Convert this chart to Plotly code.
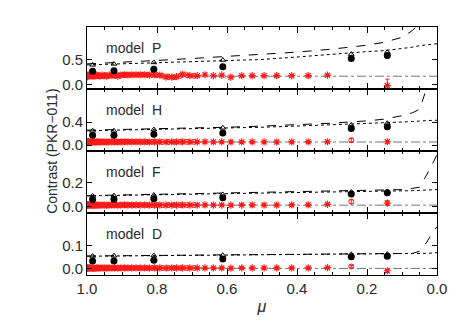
import plotly.graph_objects as go
from plotly.subplots import make_subplots

# ---------------- data ----------------
models = ["P", "H", "F", "D"]

# observed mu positions (black symbols)
mu_obs = [0.984, 0.923, 0.809, 0.612, 0.245, 0.142]
circ = {
    "P": [0.27, 0.28, 0.31, 0.36, 0.53, 0.59],
    "H": [0.17, 0.17, 0.19, 0.21, 0.29, 0.32],
    "F": [0.058, 0.060, 0.064, 0.072, 0.104, 0.114],
    "D": [0.034, 0.034, 0.037, 0.042, 0.052, 0.054],
}
tri = {
    "P": [0.40, 0.42, 0.45, 0.50, 0.62, 0.66],
    "H": [0.25, 0.25, 0.27, 0.30, 0.35, 0.38],
    "F": [0.088, 0.090, 0.095, 0.100, 0.120, 0.125],
    "D": [0.055, 0.056, 0.057, 0.058, 0.062, 0.063],
}

# model curves
mu_model = [1.0, 0.9, 0.8, 0.7, 0.6, 0.5, 0.4, 0.3, 0.2, 0.15, 0.1, 0.07, 0.05, 0.03, 0.02, 0.01, 0.0]
dashed = {
    "P": [0.42, 0.45, 0.49, 0.53, 0.57, 0.61, 0.66, 0.72, 0.80, 0.86, 0.96, 1.10, 1.22, 1.35, 1.42, 1.50, 1.60],
    "H": [0.26, 0.27, 0.28, 0.295, 0.31, 0.33, 0.35, 0.38, 0.42, 0.45, 0.51, 0.56, 0.62, 0.90, 1.10, 1.30, 1.50],
    "F": [0.09, 0.095, 0.10, 0.105, 0.11, 0.115, 0.12, 0.125, 0.13, 0.135, 0.14, 0.15, 0.16, 0.26, 0.31, 0.37, 0.43],
    "D": [0.055, 0.056, 0.057, 0.058, 0.059, 0.060, 0.061, 0.062, 0.063, 0.064, 0.065, 0.066, 0.075, 0.112, 0.137, 0.16, 0.18],
}
dotted = {
    "P": [0.40, 0.42, 0.44, 0.46, 0.48, 0.51, 0.56, 0.62, 0.67, 0.69, 0.73, 0.76, 0.79, 0.81, 0.82, 0.825, 0.83],
    "H": [0.25, 0.26, 0.27, 0.28, 0.29, 0.31, 0.33, 0.35, 0.37, 0.38, 0.40, 0.41, 0.42, 0.425, 0.43, 0.43, 0.43],
    "F": [0.088, 0.092, 0.096, 0.10, 0.104, 0.108, 0.112, 0.116, 0.12, 0.124, 0.128, 0.131, 0.134, 0.137, 0.138, 0.139, 0.14],
    "D": [0.054, 0.055, 0.056, 0.057, 0.058, 0.059, 0.060, 0.061, 0.062, 0.0625, 0.063, 0.064, 0.065, 0.066, 0.067, 0.068, 0.069],
}
# horizontal reference level (grey dash-dot)
ref_mu = [1.0, 0.0]
ref_level = {"P": 0.17, "H": 0.055, "F": 0.011, "D": 0.002}

# red asterisks (measurements)
mu_ast = [1.000, 1.000, 0.999, 0.998, 0.996, 0.994, 0.992, 0.989, 0.985, 0.982,
          0.978, 0.973, 0.968, 0.963, 0.957, 0.951, 0.944, 0.937, 0.929, 0.921,
          0.912, 0.903, 0.893, 0.883, 0.872, 0.860, 0.848, 0.835, 0.822, 0.807,
          0.792, 0.774, 0.758, 0.744, 0.727, 0.706, 0.685, 0.663, 0.639, 0.615,
          0.589, 0.558, 0.528, 0.494, 0.458, 0.415, 0.368, 0.313, 0.142]
ast = {
    "P": [0.17, 0.19, 0.16, 0.18, 0.19, 0.17, 0.18, 0.19, 0.17, 0.18,
          0.17, 0.19, 0.18, 0.17, 0.19, 0.18, 0.17, 0.19, 0.18, 0.19,
          0.17, 0.19, 0.20, 0.19, 0.20, 0.20, 0.20, 0.20, 0.19, 0.20,
          0.19, 0.15, 0.15, 0.16, 0.21, 0.18, 0.18, 0.20, 0.18, 0.19,
          0.15, 0.18, 0.18, 0.18, 0.18, 0.18, 0.18, 0.19, -0.02],
    "H": [0.055, 0.058, 0.052, 0.056, 0.060, 0.054, 0.057, 0.053, 0.058, 0.055,
          0.052, 0.057, 0.056, 0.054, 0.058, 0.055, 0.053, 0.057, 0.056, 0.059,
          0.054, 0.057, 0.060, 0.058, 0.057, 0.059, 0.056, 0.058, 0.055, 0.057,
          0.056, 0.055, 0.056, 0.057, 0.058, 0.056, 0.057, 0.058, 0.056, 0.057,
          0.055, 0.056, 0.057, 0.056, 0.055, 0.056, 0.057, 0.060, 0.060],
    "F": [0.010, 0.012, 0.009, 0.011, 0.013, 0.010, 0.011, 0.012, 0.010, 0.011,
          0.009, 0.012, 0.011, 0.010, 0.012, 0.011, 0.010, 0.012, 0.011, 0.013,
          0.010, 0.012, 0.013, 0.012, 0.012, 0.013, 0.012, 0.013, 0.011, 0.012,
          0.012, 0.011, 0.012, 0.012, 0.013, 0.012, 0.012, 0.013, 0.012, 0.012,
          0.011, 0.012, 0.013, 0.012, 0.012, 0.013, 0.014, 0.018, 0.028],
    "D": [0.003, 0.004, 0.002, 0.003, 0.004, 0.003, 0.003, 0.004, 0.003, 0.003,
          0.002, 0.004, 0.003, 0.003, 0.004, 0.003, 0.003, 0.004, 0.003, 0.004,
          0.003, 0.004, 0.004, 0.004, 0.004, 0.004, 0.004, 0.004, 0.003, 0.004,
          0.004, 0.003, 0.004, 0.004, 0.004, 0.004, 0.004, 0.004, 0.004, 0.004,
          0.003, 0.004, 0.004, 0.004, 0.004, 0.004, 0.004, 0.005, -0.008],
}
ast_err = {
    "P": [0.015] * 48 + [0.13],
    "H": [0.008] * 48 + [0.02],
    "F": [0.005] * 48 + [0.02],
    "D": [0.003] * 48 + [0.006],
}

# red open circles (second measurement set)
mu_rc = [1.000, 0.999, 0.998, 0.996, 0.995, 0.993, 0.990, 0.987, 0.984, 0.980,
         0.975, 0.971, 0.966, 0.960, 0.954, 0.947, 0.940, 0.933, 0.925, 0.917,
         0.908, 0.898, 0.888, 0.877, 0.866, 0.854, 0.841, 0.828, 0.814, 0.800,
         0.785, 0.768, 0.751, 0.733, 0.714, 0.694, 0.245]
rc = {
    "P": [0.18, 0.17, 0.19, 0.18, 0.17, 0.19, 0.18, 0.17, 0.18, 0.19,
          0.17, 0.18, 0.19, 0.18, 0.17, 0.19, 0.18, 0.19, 0.20, 0.18,
          0.19, 0.20, 0.20, 0.20, 0.20, 0.20, 0.20, 0.20, 0.20, 0.19,
          0.18, 0.16, 0.15, 0.18, 0.19, 0.18, None],
    "H": [0.058, 0.056, 0.059, 0.057, 0.056, 0.058, 0.057, 0.056, 0.058, 0.059,
          0.056, 0.057, 0.058, 0.057, 0.056, 0.058, 0.057, 0.058, 0.059, 0.057,
          0.058, 0.059, 0.058, 0.059, 0.058, 0.058, 0.059, 0.058, 0.058, 0.058,
          0.057, 0.058, 0.058, 0.058, 0.058, 0.058, 0.085],
    "F": [0.012, 0.011, 0.013, 0.012, 0.011, 0.012, 0.012, 0.011, 0.012, 0.013,
          0.011, 0.012, 0.012, 0.012, 0.011, 0.012, 0.012, 0.012, 0.013, 0.012,
          0.012, 0.013, 0.012, 0.013, 0.012, 0.012, 0.013, 0.012, 0.012, 0.012,
          0.012, 0.012, 0.012, 0.012, 0.012, 0.012, 0.040],
    "D": [0.004, 0.003, 0.004, 0.004, 0.003, 0.004, 0.004, 0.003, 0.004, 0.004,
          0.003, 0.004, 0.004, 0.004, 0.003, 0.004, 0.004, 0.004, 0.004, 0.004,
          0.004, 0.004, 0.004, 0.004, 0.004, 0.004, 0.004, 0.004, 0.004, 0.004,
          0.004, 0.004, 0.004, 0.004, 0.004, 0.004, 0.010],
}
rc_err = {
    "P": [0.015] * 36 + [0.0],
    "H": [0.008] * 36 + [0.03],
    "F": [0.005] * 36 + [0.015],
    "D": [0.003] * 36 + [0.005],
}

y_ranges = {"P": [-0.09, 1.17], "H": [-0.1, 0.97], "F": [-0.054, 0.46], "D": [-0.026, 0.238]}
y_ticks = {"P": [0.0, 0.5], "H": [0.0, 0.4], "F": [0.0, 0.2], "D": [0.0, 0.1]}
x_ticks = [1.0, 0.8, 0.6, 0.4, 0.2, 0.0]

# ---------------- figure ----------------
FONT = "Liberation Sans, Arial, sans-serif"
TXT = "#2a2a2a"
RED = "#ff1a1a"
fig = make_subplots(rows=4, cols=1, shared_xaxes=True, vertical_spacing=0)

for i, m in enumerate(models, start=1):
    fig.add_trace(go.Scatter(x=ref_mu, y=[ref_level[m]] * 2, mode="lines",
                             line=dict(color="#777777", width=1, dash="dashdot")), row=i, col=1)
    fig.add_trace(go.Scatter(x=mu_model, y=dashed[m], mode="lines",
                             line=dict(color="black", width=1, dash="dash")), row=i, col=1)
    fig.add_trace(go.Scatter(x=mu_model, y=dotted[m], mode="lines",
                             line=dict(color="black", width=1, dash="dot")), row=i, col=1)
    fig.add_trace(go.Scatter(x=mu_rc, y=rc[m], mode="markers",
                             marker=dict(symbol="circle-open", size=5, color=RED, line=dict(width=1, color=RED)),
                             error_y=dict(type="data", array=rc_err[m], color=RED, thickness=1, width=2)),
                  row=i, col=1)
    fig.add_trace(go.Scatter(x=mu_ast, y=ast[m], mode="markers",
                             marker=dict(symbol="asterisk-open", size=6, color=RED, line=dict(width=1.2, color=RED)),
                             error_y=dict(type="data", array=ast_err[m], color=RED, thickness=1, width=2)),
                  row=i, col=1)
    fig.add_trace(go.Scatter(x=mu_obs, y=tri[m], mode="markers",
                             marker=dict(symbol="triangle-up-open", size=5, color="black", line=dict(width=1, color="black"))),
                  row=i, col=1)
    fig.add_trace(go.Scatter(x=mu_obs, y=circ[m], mode="markers",
                             marker=dict(symbol="circle", size=7, color="black")), row=i, col=1)

    fig.update_yaxes(row=i, col=1, range=y_ranges[m], tickvals=y_ticks[m],
                     ticktext=["%.1f" % v for v in y_ticks[m]], automargin=False,
                     showline=True, linecolor="black", linewidth=1, mirror="ticks",
                     ticks="inside", ticklen=5, tickcolor="black", showgrid=False, zeroline=False,
                     tickfont=dict(family=FONT, size=15, color=TXT))
    fig.update_xaxes(row=i, col=1, range=[1.0, 0.0], tickvals=x_ticks,
                     ticktext=["%.1f" % v for v in x_ticks], automargin=False,
                     showticklabels=(i == 4),
                     showline=True, linecolor="black", linewidth=1, mirror="ticks",
                     ticks="inside", ticklen=6, tickcolor="black", showgrid=False, zeroline=False,
                     minor=dict(dtick=0.05, tick0=0, ticks="inside", ticklen=3, tickcolor="black", showgrid=False),
                     tickfont=dict(family=FONT, size=15, color=TXT))
    fig.add_annotation(x=0.951, y=0.656, xref="x" if i == 1 else "x%d" % i,
                       yref=("y" if i == 1 else "y%d" % i) + " domain",
                       text="model  " + m, showarrow=False, xanchor="left", yanchor="middle",
                       font=dict(family=FONT, size=14, color=TXT))

fig.update_xaxes(row=4, col=1, title=dict(text="<i>μ</i>", font=dict(family=FONT, size=16, color=TXT), standoff=4))
fig.add_annotation(x=-0.129, y=0.5, xref="paper", yref="paper", text="Contrast (PKR−011)",
                   textangle=-90, showarrow=False, font=dict(family=FONT, size=14, color=TXT))

fig.update_layout(width=463, height=331, showlegend=False,
                  margin=dict(l=87, r=26, t=27, b=56),
                  paper_bgcolor="white", plot_bgcolor="white")
fig.write_html("out.html", config={"displayModeBar": False},
               post_script="document.body.style.margin='0px';")
